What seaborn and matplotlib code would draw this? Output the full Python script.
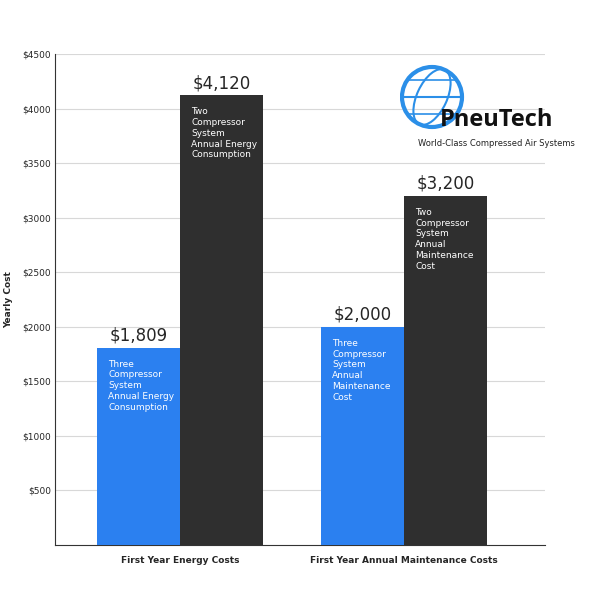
import numpy as np
import matplotlib
matplotlib.use("Agg")
import matplotlib.pyplot as plt
import seaborn as sns
import pandas as pd
from matplotlib.patches import Circle, Ellipse

categories = ["First Year Energy Costs", "First Year Annual Maintenance Costs"]
systems = ["Three Compressor", "Two Compressor"]
three_values = [1809, 2000]
two_values = [4120, 3200]
value_labels = [["$1,809", "$2,000"], ["$4,120", "$3,200"]]
bar_texts = [["Three\nCompressor\nSystem\nAnnual Energy\nConsumption",
              "Three\nCompressor\nSystem\nAnnual\nMaintenance\nCost"],
             ["Two\nCompressor\nSystem\nAnnual Energy\nConsumption",
              "Two\nCompressor\nSystem\nAnnual\nMaintenance\nCost"]]
yticks = [500, 1000, 1500, 2000, 2500, 3000, 3500, 4000, 4500]

df = pd.DataFrame({
    "category": categories * 2,
    "system": [systems[0]] * 2 + [systems[1]] * 2,
    "cost": three_values + two_values,
})

sns.set_style("white")
fig = plt.figure(figsize=(6, 6), dpi=100)
ax = fig.add_axes([55 / 600, 55 / 600, 490 / 600, 491 / 600])
sns.barplot(data=df, x="category", y="cost", hue="system",
            palette=["#2b80f0", "#2f2f2f"], width=0.74, saturation=1,
            legend=False, ax=ax, zorder=3, linewidth=0)
ax.set_xlim(-0.558, 1.63)
ax.set_ylim(0, 4500)
ax.set_yticks(yticks)
ax.set_yticklabels([f"${v}" for v in yticks], fontsize=6.5)
ax.tick_params(axis="y", length=0, pad=3)
ax.tick_params(axis="x", length=0, pad=8)
for lab in ax.get_xticklabels():
    lab.set_fontsize(6.5)
    lab.set_fontweight("bold")
ax.yaxis.grid(True, color="#d8d8d8", lw=0.8, zorder=0)
for s in ["top", "right"]:
    ax.spines[s].set_visible(False)
for s in ["left", "bottom"]:
    ax.spines[s].set_color("#333333")
    ax.spines[s].set_linewidth(0.8)
ax.set_xlabel("")
ax.set_ylabel("Yearly Cost", fontsize=6.5, fontweight="bold")
ax.yaxis.set_label_coords(-0.085, 0.5)

for hi, cont in enumerate(ax.containers):
    for bi, bar in enumerate(cont):
        x0 = bar.get_x()
        h = bar.get_height()
        ax.text(x0 + bar.get_width() / 2, h + 30, value_labels[hi][bi],
                ha="center", va="bottom", fontsize=12)
        ax.text(x0 + 0.05, h - 110, bar_texts[hi][bi], ha="left", va="top",
                fontsize=6.5, color="white", linespacing=1.25, zorder=4)

# logo
lax = fig.add_axes([400 / 600, 440 / 600, 175 / 600, 100 / 600])
lax.set_xlim(0, 175)
lax.set_ylim(0, 100)
lax.axis("off")
lax.add_patch(Circle((32, 63), 30, fill=False, ec="#2b8fe8", lw=3))
lax.add_patch(Ellipse((32, 63), 30, 60, angle=-25, fill=False, ec="#2b8fe8", lw=1.5))
lax.plot([3, 61], [63, 63], color="#2b8fe8", lw=1.5)
lax.plot([8, 56], [80, 80], color="#2b8fe8", lw=1.2)
lax.plot([8, 56], [46, 46], color="#2b8fe8", lw=1.2)
lax.text(40, 40, "PneuTech", fontsize=17, fontweight="bold", color="#111111",
         ha="left", va="center", family="Open Sans",
         bbox=dict(fc="white", ec="none", pad=0.5, alpha=0.0))
lax.text(18, 17, "World-Class Compressed Air Systems", fontsize=6,
         color="#222222", ha="left", va="center")

fig.savefig("out.png", dpi=100)
